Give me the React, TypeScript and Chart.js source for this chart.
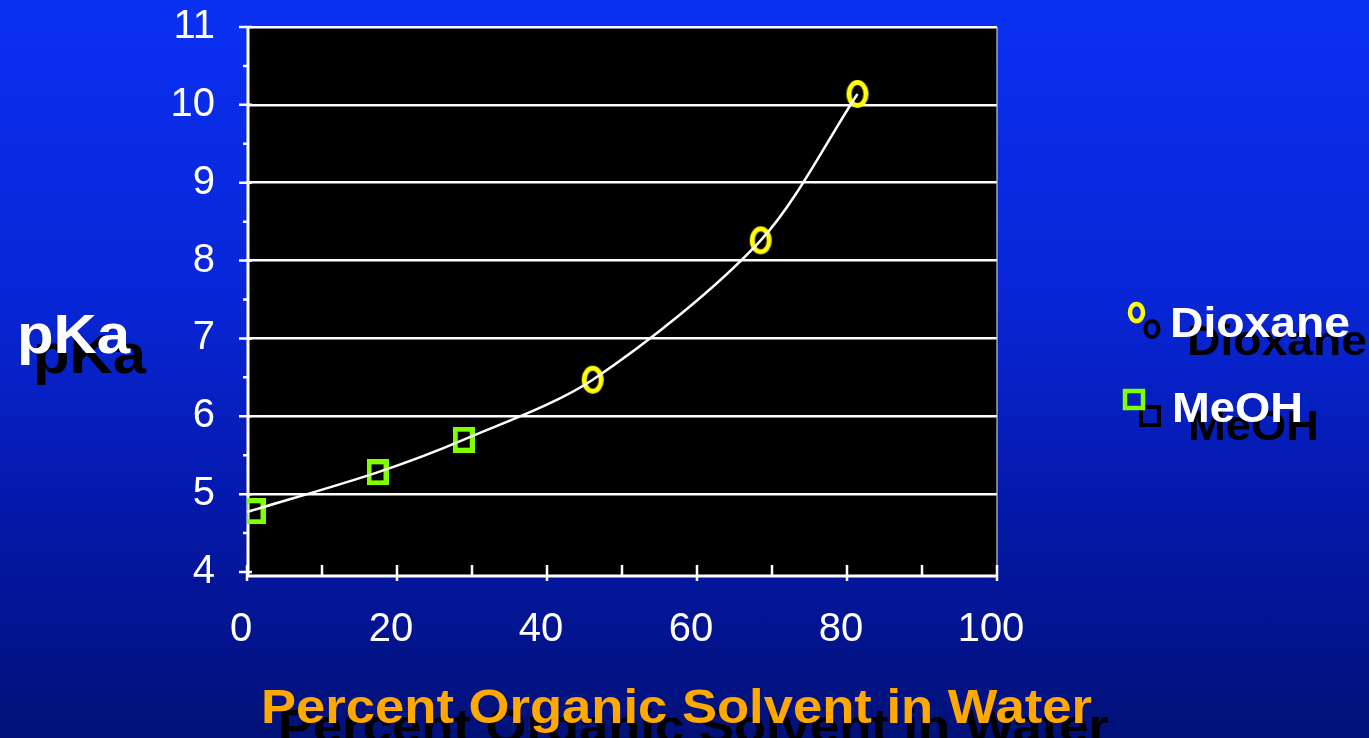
import React, { useEffect, useRef } from "react";
import { Chart, registerables } from "chart.js";

Chart.register(...registerables);

// ---- data ----
const seriesLabels = ["Dioxane", "MeOH"];
const dioxaneX = [46.1, 68.5, 81.4];
const dioxaneY = [6.47, 8.26, 10.14];
const meohX = [1.0, 17.4, 28.9];
const meohY = [4.78, 5.28, 5.7];
const curveX = [0, 17.4, 28.9, 46.1, 68.5, 81.4];
const curveY = [4.77, 5.28, 5.7, 6.47, 8.26, 10.14];
const xTicks = [0, 20, 40, 60, 80, 100];
const yTicks = [4, 5, 6, 7, 8, 9, 10, 11];
const xTitle = "Percent Organic Solvent in Water";
const yTitle = "pKa";

const FONT = "'Liberation Sans', Arial, Helvetica, sans-serif";
const YELLOW = "#ffff00";
const GREEN = "#80ff00";
const ORANGE = "#ffa800";

function ellipseImg(rx: number, ry: number, lw: number, color: string) {
  const c = document.createElement("canvas");
  c.width = Math.ceil(2 * rx + lw + 2);
  c.height = Math.ceil(2 * ry + lw + 2);
  const g = c.getContext("2d")!;
  g.strokeStyle = color;
  g.lineWidth = lw;
  g.beginPath();
  g.ellipse(c.width / 2, c.height / 2, rx, ry, 0, 0, Math.PI * 2);
  g.stroke();
  return c;
}

function rectImg(w: number, h: number, lw: number, color: string) {
  const c = document.createElement("canvas");
  c.width = w;
  c.height = h;
  const g = c.getContext("2d")!;
  g.strokeStyle = color;
  g.lineWidth = lw;
  g.strokeRect(lw / 2, lw / 2, w - lw, h - lw);
  return c;
}

function stretchedText(
  ctx: CanvasRenderingContext2D,
  text: string,
  x: number,
  y: number,
  font: string,
  color: string,
  targetWidth: number
) {
  ctx.save();
  ctx.font = font;
  const w = ctx.measureText(text).width;
  const sx = targetWidth / w;
  ctx.translate(x, y);
  ctx.scale(sx, 1);
  ctx.fillStyle = color;
  ctx.textAlign = "left";
  ctx.textBaseline = "alphabetic";
  ctx.fillText(text, 0, 0);
  ctx.restore();
}

export default function App() {
  const ref = useRef<HTMLCanvasElement | null>(null);

  useEffect(() => {
    if (!ref.current) return;
    const dioxImg = ellipseImg(8.5, 11.5, 5, YELLOW);
    const meohImg = rectImg(22, 26, 5, GREEN);

    const decor = {
      id: "decor",
      beforeDraw(chart: any) {
        const { ctx, chartArea } = chart;
        const { left, top, right, bottom } = chartArea;
        ctx.save();
        ctx.fillStyle = "#000";
        ctx.fillRect(left, top, right - left, bottom + 4 - top);
        ctx.restore();
      },
      beforeDatasetsDraw(chart: any) {
        const { ctx, chartArea, scales } = chart;
        const { left, top, right, bottom } = chartArea;
        const xs = scales.x;
        const ys = scales.y;
        const axisY = bottom + 4;
        ctx.save();
        // right border (faint)
        ctx.strokeStyle = "rgba(200,200,200,0.8)";
        ctx.lineWidth = 1.5;
        ctx.beginPath();
        ctx.moveTo(right, top);
        ctx.lineTo(right, axisY);
        ctx.stroke();
        ctx.strokeStyle = "#ffffff";
        // axis lines
        ctx.lineWidth = 3;
        ctx.beginPath();
        ctx.moveTo(left + 1, top - 1);
        ctx.lineTo(left + 1, axisY + 1);
        ctx.moveTo(left, axisY);
        ctx.lineTo(right + 1, axisY);
        ctx.stroke();
        ctx.lineWidth = 2.5;
        // y ticks (major + minor)
        ctx.beginPath();
        for (let i = 0; i < yTicks.length; i++) {
          const py = ys.getPixelForValue(yTicks[i]);
          ctx.moveTo(left - 8, py);
          ctx.lineTo(left + 5, py);
          if (i < yTicks.length - 1) {
            const pm = ys.getPixelForValue((yTicks[i] + yTicks[i + 1]) / 2);
            ctx.moveTo(left - 4, pm);
            ctx.lineTo(left + 1, pm);
          }
        }
        // x ticks (major + minor)
        for (let i = 0; i < xTicks.length; i++) {
          const px = xs.getPixelForValue(xTicks[i]);
          ctx.moveTo(px, axisY - 11);
          ctx.lineTo(px, axisY + 5);
          if (i < xTicks.length - 1) {
            const pm = xs.getPixelForValue((xTicks[i] + xTicks[i + 1]) / 2);
            ctx.moveTo(pm, axisY - 11);
            ctx.lineTo(pm, axisY);
          }
        }
        ctx.stroke();
        ctx.restore();
      },
      afterDraw(chart: any) {
        const { ctx } = chart;
        const sh = "#000000";
        // ----- shadows -----
        stretchedText(ctx, yTitle, 33, 373, `bold 56px ${FONT}`, sh, 113);
        stretchedText(ctx, xTitle, 278, 743, `bold 48px ${FONT}`, sh, 831);
        stretchedText(ctx, seriesLabels[0], 1187, 355, `bold 43px ${FONT}`, sh, 180);
        stretchedText(ctx, seriesLabels[1], 1188, 440, `bold 43px ${FONT}`, sh, 131);
        ctx.save();
        ctx.lineWidth = 4;
        ctx.strokeStyle = sh;
        ctx.beginPath();
        ctx.ellipse(1152, 329, 6.5, 8, 0, 0, Math.PI * 2);
        ctx.stroke();
        ctx.strokeRect(1141, 407, 18, 18);
        ctx.restore();
        // ----- main -----
        stretchedText(ctx, yTitle, 17, 353, `bold 56px ${FONT}`, "#ffffff", 113);
        stretchedText(ctx, xTitle, 261, 723, `bold 48px ${FONT}`, ORANGE, 831);
        stretchedText(ctx, seriesLabels[0], 1170, 337, `bold 43px ${FONT}`, "#ffffff", 180);
        stretchedText(ctx, seriesLabels[1], 1172, 422, `bold 43px ${FONT}`, "#ffffff", 131);
        ctx.save();
        ctx.lineWidth = 4.5;
        ctx.strokeStyle = YELLOW;
        ctx.beginPath();
        ctx.ellipse(1136.5, 312.5, 6.5, 8.5, 0, 0, Math.PI * 2);
        ctx.stroke();
        ctx.strokeStyle = GREEN;
        ctx.strokeRect(1125, 391, 18, 17);
        ctx.restore();
      },
    };

    const chart = new Chart(ref.current, {
      type: "scatter",
      data: {
        datasets: [
          {
            label: seriesLabels[0],
            data: dioxaneX.map((x, i) => ({ x, y: dioxaneY[i] })),
            pointStyle: dioxImg as any,
            pointRadius: 12,
            showLine: false,
            order: 2,
          },
          {
            label: seriesLabels[1],
            data: meohX.map((x, i) => ({ x, y: meohY[i] })),
            pointStyle: meohImg as any,
            pointRadius: 12,
            showLine: false,
            order: 2,
          },
          {
            label: "trend",
            data: curveX.map((x, i) => ({ x, y: curveY[i] })),
            showLine: true,
            borderColor: "#ffffff",
            borderWidth: 2.5,
            pointRadius: 0,
            tension: 0.3,
            order: 1,
          } as any,
        ],
      },
      options: {
        animation: false,
        responsive: false,
        maintainAspectRatio: false,
        layout: { padding: { left: 0, right: 1369 - 997, top: 27, bottom: 0 } },
        plugins: { legend: { display: false }, tooltip: { enabled: false } },
        scales: {
          x: {
            type: "linear",
            min: 0,
            max: 100,
            afterBuildTicks: (s: any) => {
              s.ticks = xTicks.map((v) => ({ value: v }));
            },
            afterFit: (s: any) => {
              s.height = 738 - 572;
              s.paddingLeft = 0;
              s.paddingRight = 0;
            },
            grid: { display: false, drawTicks: false },
            border: { display: false },
            ticks: {
              color: "#ffffff",
              font: { family: FONT, size: 40 },
              padding: 34,
              labelOffset: -6,
              maxRotation: 0,
            },
          },
          y: {
            type: "linear",
            min: 4,
            max: 11,
            afterBuildTicks: (s: any) => {
              s.ticks = yTicks.map((v) => ({ value: v }));
            },
            afterFit: (s: any) => {
              s.width = 247;
              s.paddingTop = 0;
              s.paddingBottom = 0;
            },
            grid: {
              drawTicks: false,
              lineWidth: 2.5,
              color: (c: any) => (c.tick && c.tick.value === 4 ? "rgba(0,0,0,0)" : "#ffffff"),
            },
            border: { display: false },
            ticks: {
              color: "#ffffff",
              font: { family: FONT, size: 40 },
              padding: 32,
            },
          },
        },
      },
      plugins: [decor],
    });
    return () => chart.destroy();
  }, []);

  return (
    <div
      style={{
        position: "fixed",
        left: 0,
        top: 0,
        width: 1369,
        height: 738,
        background: "linear-gradient(180deg, #0a30f2 0%, #0826d6 40%, #0418a8 70%, #011178 100%)",
      }}
    >
      <canvas ref={ref} width={1369} height={738} style={{ display: "block" }} />
    </div>
  );
}
